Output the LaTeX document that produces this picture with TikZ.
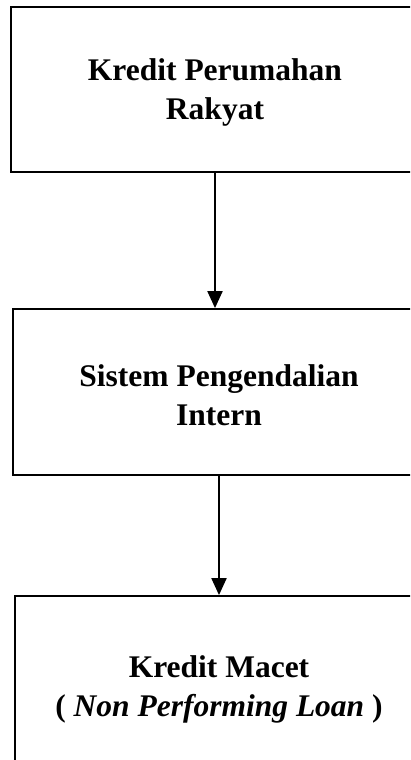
\documentclass[tikz,border=0pt]{standalone}
\usepackage{fontspec}
\setmainfont{Liberation Serif}
\usepackage{tikz}
\usetikzlibrary{positioning,arrows.meta}

\tikzset{
    kotak/.style={draw, line width=1.8pt, align=center, inner sep=0pt,
        font=\fontsize{31.5}{39}\selectfont\bfseries},
    panah/.style={line width=2pt, -{Triangle[width=15pt,length=17pt]}}
}
\newcommand{\turun}{\rule{0pt}{28pt}}

\begin{document}
\begin{tikzpicture}[x=1pt, y={(0pt,-1pt)}]
        \useasboundingbox (0,0) rectangle (410,760);
        \clip (0,0) rectangle (410,760);

        % Kotak-kotak alur
        \node[kotak, minimum width=408pt, minimum height=165pt] (krp) at (215,89.5) {\turun Kredit Perumahan\\Rakyat};
        \node[kotak, minimum width=412pt, minimum height=166pt] (spi) at (219,392) {\turun Sistem Pengendalian\\Intern};
        \node[kotak, minimum width=408pt, minimum height=180pt] (npl) at (219,686) {\turun Kredit Macet\\( \textit{Non Performing Loan} )};

        % Panah
        \draw[panah] (krp.south) -- (krp.south |- spi.north);
        \draw[panah] (spi.south) -- (spi.south |- npl.north);
    \end{tikzpicture}
\end{document}
